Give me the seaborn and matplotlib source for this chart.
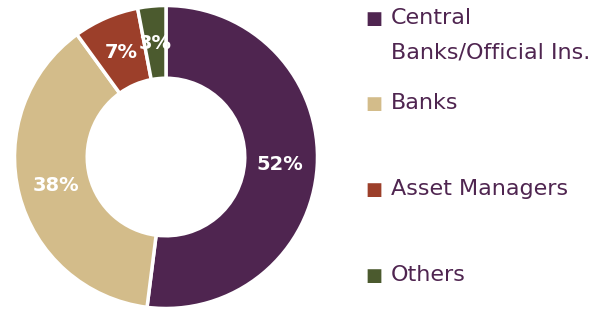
import matplotlib
matplotlib.use("Agg")
import matplotlib.pyplot as plt
import seaborn as sns

# data
categories = ["Central\nBanks/Official Ins.", "Banks", "Asset Managers", "Others"]
shares = [52, 38, 7, 3]
colors = ["#4f2550", "#d3bc8a", "#9c3f2a", "#4b5a2e"]
text_color = "#4f2550"

sns.set_theme(style="white")
plt.rcParams["font.family"] = ["DejaVu Sans"]

fig = plt.figure(figsize=(6.02, 3.10), dpi=100)
ax = fig.add_axes([13 / 602, 0.0, 306 / 602, 306 / 310])

wedges, texts, autotexts = ax.pie(
    shares,
    colors=sns.color_palette(colors),
    startangle=90,
    counterclock=False,
    autopct="%d%%",
    pctdistance=0.75,
    radius=1.0,
    wedgeprops=dict(width=0.48, edgecolor="white", linewidth=2.5),
)
for t in autotexts:
    t.set_color("white")
    t.set_fontweight("bold")
    t.set_fontsize(14)
ax.set_xlim(-1.01, 1.01)
ax.set_ylim(-1.01, 1.01)
ax.set_aspect("equal")
ax.axis("off")

# legend drawn by hand (marker aligned with first line of the label)
legend_y = [18, 103, 189, 275]
for lab, col, y in zip(categories, colors, legend_y):
    fig.text(365 / 602, 1 - (y + 1) / 310, "■", color=col, fontsize=13,
             ha="left", va="center")
    lines = lab.split("\n")
    for i, line in enumerate(lines):
        fig.text(391 / 602, 1 - (y + 34 * i) / 310, line, color=text_color,
                 fontsize=16, ha="left", va="center")

fig.savefig("out.png", dpi=100)
